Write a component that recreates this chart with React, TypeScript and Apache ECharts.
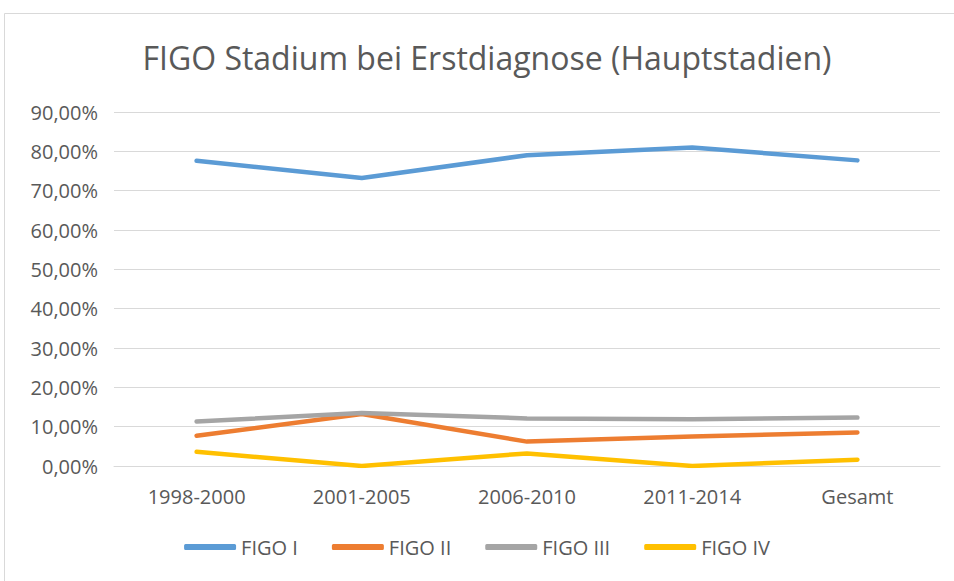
import React, { useEffect, useRef } from "react";
import * as echarts from "echarts";

const categories = ["1998-2000", "2001-2005", "2006-2010", "2011-2014", "Gesamt"];
const figoI = [77.6, 73.2, 79.0, 81.0, 77.7];
const figoII = [7.7, 13.2, 6.2, 7.5, 8.5];
const figoIII = [11.3, 13.5, 12.1, 11.9, 12.3];
const figoIV = [3.6, 0.0, 3.2, 0.0, 1.6];
const seriesNames = ["FIGO I", "FIGO II", "FIGO III", "FIGO IV"];
const colors = ["#5b9bd5", "#ed7d31", "#a5a5a5", "#ffc000"];
const title = "FIGO Stadium bei Erstdiagnose (Hauptstadien)";

const FONT = "'Open Sans', 'DejaVu Sans', sans-serif";
const TEXT = "#595959";

export default function App() {
  const ref = useRef<HTMLDivElement>(null);
  useEffect(() => {
    if (!ref.current) return;
    const chart = echarts.init(ref.current, null, { renderer: "svg" });
    const values = [figoI, figoII, figoIII, figoIV];
    chart.setOption({
      animation: false,
      backgroundColor: "#ffffff",
      textStyle: { fontFamily: FONT },
      graphic: [
        {
          type: "rect",
          shape: { x: 4.5, y: 13.5, width: 970, height: 620 },
          style: { fill: "none", stroke: "#d9d9d9", lineWidth: 1 },
          silent: true,
        },
        {
          type: "text",
          x: 487,
          y: 57,
          style: {
            text: title,
            fontFamily: FONT,
            fontSize: 32,
            fill: TEXT,
            textAlign: "center",
            textVerticalAlign: "middle",
          },
        },
      ],
      grid: { left: 114, right: 14, top: 112, bottom: 115, containLabel: false },
      legend: {
        bottom: 19,
        left: "center",
        icon: "roundRect",
        itemWidth: 52,
        itemHeight: 6,
        itemGap: 34,
        textStyle: { color: TEXT, fontSize: 20, fontFamily: FONT },
        data: seriesNames,
      },
      xAxis: {
        type: "category",
        data: categories,
        boundaryGap: true,
        axisLine: { show: true, lineStyle: { color: "#d9d9d9", width: 1 } },
        axisTick: { show: false },
        axisLabel: { color: TEXT, fontSize: 20, margin: 20, fontFamily: FONT },
      },
      yAxis: {
        type: "value",
        min: 0,
        max: 90,
        interval: 10,
        axisLine: { show: false },
        axisTick: { show: false },
        splitLine: { lineStyle: { color: "#d9d9d9", width: 1 } },
        axisLabel: {
          color: TEXT,
          fontSize: 20,
          margin: 16,
          fontFamily: FONT,
          formatter: (v: number) => v.toFixed(2).replace(".", ",") + "%",
        },
      },
      series: values.map((d, i) => ({
        name: seriesNames[i],
        type: "line",
        data: d,
        showSymbol: false,
        symbol: "none",
        color: colors[i],
        lineStyle: { width: 4.5, color: colors[i], cap: "round", join: "round" },
      })),
    });
    return () => chart.dispose();
  }, []);
  return (
    <div
      ref={ref}
      style={{ position: "absolute", left: 0, top: 0, width: 954, height: 581 }}
    />
  );
}
